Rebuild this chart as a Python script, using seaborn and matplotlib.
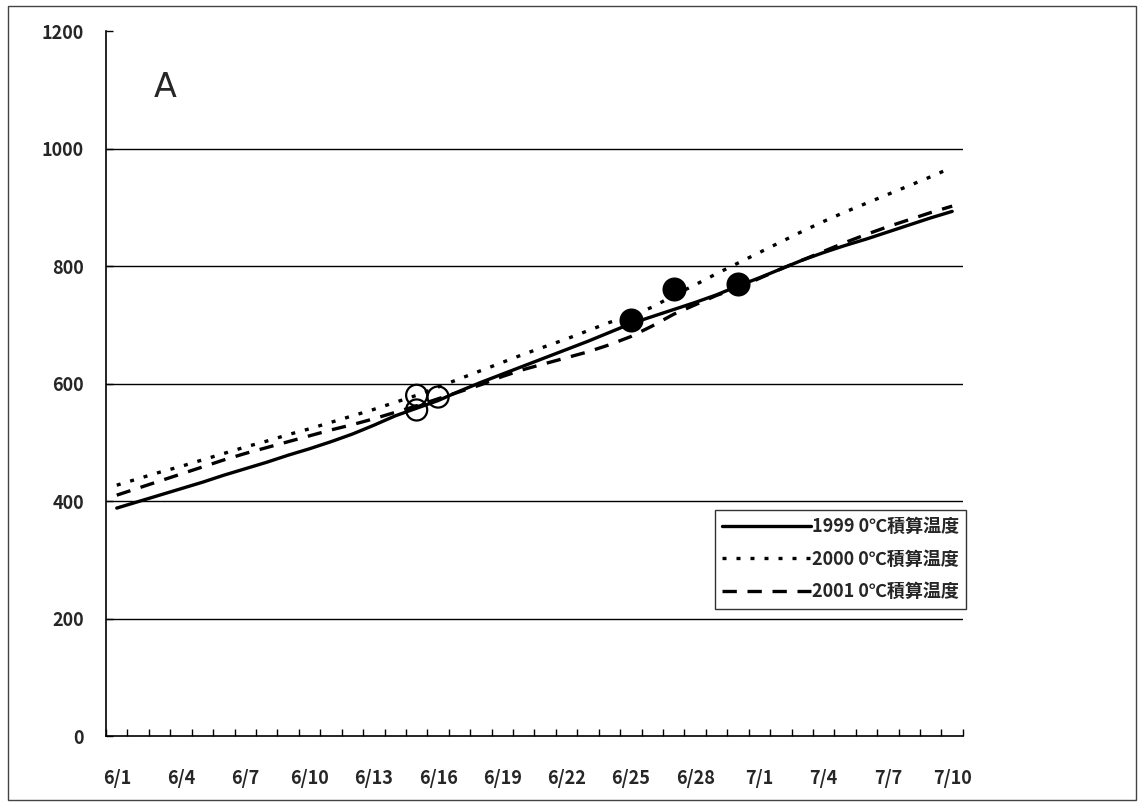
import matplotlib
matplotlib.use("Agg")
import matplotlib.pyplot as plt
import seaborn as sns
import pandas as pd
from matplotlib.patches import Rectangle
from matplotlib.ticker import FixedLocator

# Dates from 6/1 to 7/10 (one category per day)
dates = [f"6/{d}" for d in range(1, 31)] + [f"7/{d}" for d in range(1, 11)]

# Accumulated temperature above 0 degC
temp_1999 = [388, 399, 410, 421, 432, 444, 455, 466, 478, 489,
             501, 514, 529, 545, 558, 571, 587, 602, 616, 630,
             644, 658, 672, 687, 702, 714, 726, 738, 751, 766,
             780, 795, 810, 823, 835, 846, 858, 870, 882, 893]
temp_2000 = [427, 438, 449, 459, 470, 481, 492, 502, 513, 523,
             534, 545, 556, 568, 580, 594, 608, 622, 636, 650,
             663, 676, 690, 704, 716, 730, 750, 768, 787, 805,
             823, 841, 859, 876, 892, 907, 922, 937, 952, 968]
temp_2001 = [410, 422, 434, 446, 458, 470, 481, 491, 501, 511,
             521, 530, 540, 551, 562, 574, 586, 598, 612, 624,
             634, 644, 654, 666, 680, 698, 718, 734, 750, 763,
             779, 795, 810, 825, 840, 854, 867, 879, 891, 902]

series_labels = ["1999 0℃積算温度", "2000 0℃積算温度", "2001 0℃積算温度"]

# Event markers (open and filled circles)
open_dates = ["6/15", "6/15", "6/16"]
open_vals = [580, 555, 577]
filled_dates = ["6/25", "6/27", "6/30"]
filled_vals = [708, 761, 769]

xtick_labels = dates[::3]
yticks = [0, 200, 400, 600, 800, 1000, 1200]

sns.set_style("white")
plt.rcParams["font.family"] = ["Noto Sans CJK JP", "DejaVu Sans"]

fig = plt.figure(figsize=(11.44, 8.06), dpi=100)
ax = fig.add_axes([0.0927, 0.0868, 0.749, 0.8747])

day_index = {d: i for i, d in enumerate(dates)}
days = list(range(len(dates)))

df = pd.DataFrame({"day": days, "y1999": temp_1999, "y2000": temp_2000, "y2001": temp_2001})

styles = [
    ("y1999", "-"),
    ("y2000", (0, (1.2, 3.0))),
    ("y2001", (0, (4.3, 3.2))),
]
for (col, ls), lab in zip(styles, series_labels):
    sns.lineplot(data=df, x="day", y=col, ax=ax, color="black", lw=2.4,
                 linestyle=ls, label=lab, legend=False)

odf = pd.DataFrame({"day": [day_index[d] for d in open_dates], "val": open_vals})
fdf = pd.DataFrame({"day": [day_index[d] for d in filled_dates], "val": filled_vals})
sns.scatterplot(data=odf, x="day", y="val", ax=ax, s=230, facecolor="none",
                edgecolor="black", linewidth=1.6, zorder=5, legend=False)
sns.scatterplot(data=fdf, x="day", y="val", ax=ax, s=300, color="black",
                edgecolor="black", linewidth=0, zorder=5, legend=False)

ax.set_xlim(-0.5, len(dates) - 0.5)
ax.set_ylim(0, 1200)

# horizontal grid lines
for v in yticks[1:-1]:
    ax.axhline(v, color="black", lw=1.0, zorder=1)

for side in ["top", "right"]:
    ax.spines[side].set_visible(False)
for side in ["left", "bottom"]:
    ax.spines[side].set_color("black")
    ax.spines[side].set_linewidth(1.2)

ax.tick_params(bottom=True, left=True)
ax.set_yticks(yticks)
ax.set_yticklabels([str(v) for v in yticks], fontsize=13, fontweight="bold")
ax.tick_params(axis="y", direction="in", length=5, width=1, pad=16, color="black")

ax.xaxis.set_major_locator(FixedLocator(days[::3]))
ax.set_xticklabels(xtick_labels, fontsize=13, fontweight="bold")
ax.xaxis.set_minor_locator(FixedLocator([i - 0.5 for i in range(len(dates) + 1)]))
ax.tick_params(axis="x", which="major", length=0, pad=24)
ax.tick_params(axis="x", which="minor", bottom=True, direction="in", length=5,
               width=1, color="black")
ax.set_xlabel("")
ax.set_ylabel("")

ax.text(0.069, 0.92, "A", transform=ax.transAxes, fontsize=24,
        family="DejaVu Sans", ha="center", va="center")

handles = ax.get_lines()[:3]
leg = ax.legend(handles=handles, labels=series_labels, loc="upper left",
                bbox_to_anchor=(0.711, 0.3206), frameon=True, fancybox=False,
                edgecolor="black", fontsize=13, handlelength=4.9,
                handletextpad=0.05, borderpad=0.4, labelspacing=0.75,
                borderaxespad=0)
leg.get_frame().set_linewidth(1.0)
for t in leg.get_texts():
    t.set_fontweight("bold")

# outer frame around the whole figure
fig.patches.append(Rectangle((0.007, 0.007), 0.986, 0.986, transform=fig.transFigure,
                             fill=False, edgecolor="#444444", lw=1.0))

fig.savefig("out.png", dpi=100)
